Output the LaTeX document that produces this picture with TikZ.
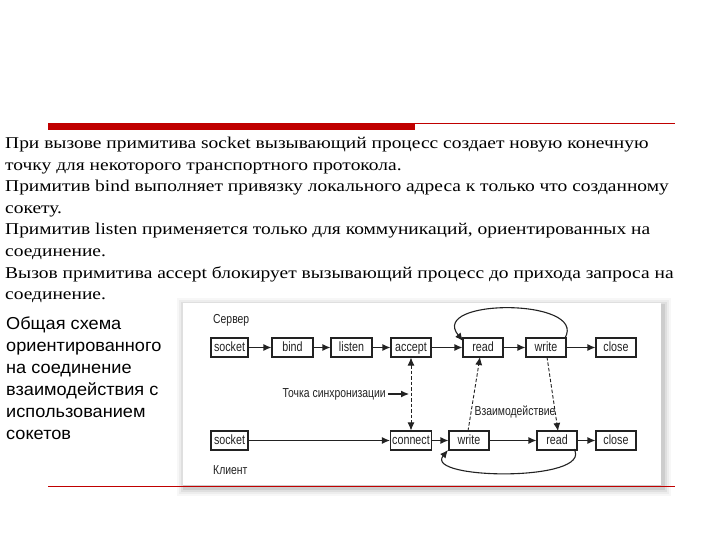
\documentclass[tikz,border=0pt]{standalone}
\usepackage{fontspec}
\setmainfont{Liberation Serif}
\newfontfamily\bodyfont[FakeStretch=1.18]{Liberation Serif}
\newfontfamily\leftfont[FakeStretch=1.05]{Liberation Sans}
\newfontfamily\narrowfont[FakeStretch=0.8]{Liberation Sans}
\usetikzlibrary{arrows.meta}
\definecolor{barred}{HTML}{C00000}
\definecolor{ink}{HTML}{222222}
\begin{document}
\begin{tikzpicture}[x=1pt,y=-1pt,
  bodyline/.style={anchor=base west,inner sep=0pt,font=\bodyfont\fontsize{16.5}{20}\selectfont},
  leftline/.style={anchor=base west,inner sep=0pt,font=\leftfont\fontsize{17.3}{20}\selectfont},
  prim/.style={draw=ink,line width=1.1pt,text=ink,minimum width=40pt,minimum height=19pt,inner sep=0pt,text height=9.5pt,text depth=2.5pt,font=\narrowfont\fontsize{13.4}{15}\selectfont},
  lab/.style={text=ink,inner sep=0pt,font=\narrowfont\fontsize{13}{15}\selectfont},
  flow/.style={draw=ink,line width=1.1pt,-{Latex[length=8pt,width=7pt]}},
  dflow/.style={draw=ink,line width=0.9pt,dash pattern=on 3.5pt off 2pt,-{Latex[length=8pt,width=7pt]}}
]
\useasboundingbox (0,0) rectangle (720,540);
\fill[white] (0,0) rectangle (720,540);
% top rules
\fill[barred] (48,123) rectangle (415,130.5);
\draw[barred,line width=1pt] (415,123.5) -- (675,123.5);
% body text
\node[bodyline] (t1) at (5,149) {При вызове примитива socket вызывающий процесс создает новую конечную};
\node[bodyline] (t2) at (5,170.5) {точку для некоторого транспортного протокола.};
\node[bodyline] (t3) at (5,192) {Примитив bind выполняет привязку локального адреса к только что созданному};
\node[bodyline] (t4) at (5,213.5) {сокету.};
\node[bodyline] (t5) at (5,235) {Примитив listen применяется только для коммуникаций, ориентированных на};
\node[bodyline] (t6) at (5,256.5) {соединение.};
\node[bodyline] (t7) at (5,278) {Вызов примитива accept блокирует вызывающий процесс до прихода запроса на};
\node[bodyline] (t8) at (5,299.5) {соединение.};
% left text
\node[leftline] (l1) at (6,329) {Общая схема};
\node[leftline] (l2) at (6,351) {ориентированного};
\node[leftline] (l3) at (6,373) {на соединение};
\node[leftline] (l4) at (6,395) {взаимодействия с};
\node[leftline] (l5) at (6,417) {использованием};
\node[leftline] (l6) at (6,439) {сокетов};
% diagram frame with shadow
\foreach \s/\o in {8/0.03,6/0.04,4/0.06,2/0.08}{
  \fill[black,opacity=\o] (183-\s+2,303-\s+3) rectangle (661+\s+2,485+\s+3);
}
\fill[white] (183,303) rectangle (661,485);
% labels
\node[lab,anchor=west] (srv) at (213,320) {Сервер};
\node[lab,anchor=west] (cli) at (213,470) {Клиент};
% server row
\node[prim,minimum width=37pt] (ssock) at (229.5,347.5) {socket};
\node[prim,minimum width=41pt] (bind) at (292.5,347.5) {bind};
\node[prim,minimum width=41pt] (listen) at (351.5,347.5) {listen};
\node[prim] (accept) at (411,347.5) {accept};
\node[prim] (sread) at (483,347.5) {read};
\node[prim] (swrite) at (546,347.5) {write};
\node[prim] (sclose) at (616,347.5) {close};
% client row
\node[prim,minimum width=37pt] (csock) at (229.5,440.5) {socket};
\node[prim,minimum width=41pt] (connect) at (411,440.5) {connect};
\node[prim] (cwrite) at (469,440.5) {write};
\node[prim] (cread) at (557,440.5) {read};
\node[prim] (cclose) at (616,440.5) {close};
% server arrows
\draw[flow] (ssock) -- (bind);
\draw[flow] (bind) -- (listen);
\draw[flow] (listen) -- (accept);
\draw[flow] (accept) -- (sread);
\draw[flow] (sread) -- (swrite);
\draw[flow] (swrite) -- (sclose);
% client arrows
\draw[flow] (csock) -- (connect);
\draw[flow] (connect) -- (cwrite);
\draw[flow] (cwrite) -- (cread);
\draw[flow] (cread) -- (cclose);
% loops
\coordinate (tl1) at (565,338);
\coordinate (tl2) at (463,341);
\draw[flow] (tl1) .. controls (588,298) and (428,298) .. (tl2);
\coordinate (bl1) at (574,449);
\coordinate (bl2) at (448,450);
\draw[flow] (bl1) .. controls (594,482) and (423,480) .. (bl2);
% synchronization
\draw[dflow,{Latex[length=8pt,width=7pt]}-{Latex[length=8pt,width=7pt]}] (accept.south) -- (connect.north);
\node[lab,anchor=east] (sync) at (386,394) {Точка синхронизации};
\coordinate (syncend) at (409,394);
\draw[flow] (sync.east) ++(2,0) coordinate (syncstart) (syncstart) -- (syncend);
% interaction
\coordinate (i1a) at (468,431);
\coordinate (i1b) at (480,357);
\draw[dflow] (i1a) -- (i1b);
\coordinate (i2a) at (547,357);
\coordinate (i2b) at (558,431);
\draw[dflow] (i2a) -- (i2b);
\node[lab] (inter) at (515,412) {Взаимодействие};
% bottom rule
\draw[barred,line width=1pt] (48,486.5) -- (675,486.5);
\end{tikzpicture}
\end{document}
